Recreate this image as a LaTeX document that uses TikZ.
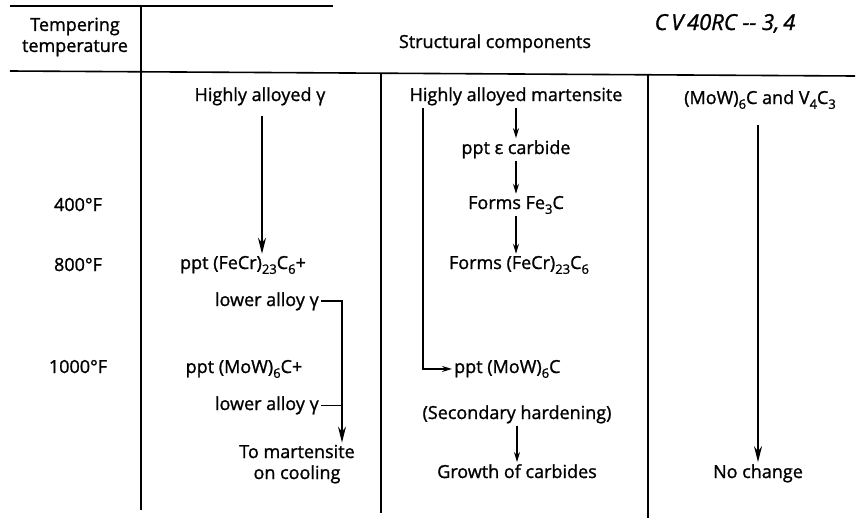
\documentclass[tikz,border=0pt]{standalone}
\usepackage{fontspec}
\setmainfont{Open Sans}[FakeBold=1.2]
\usetikzlibrary{arrows.meta,positioning}
\newcommand{\chsub}[1]{\raisebox{-0.5ex}{\fontsize{13}{13}\selectfont #1}}

\begin{document}
\begin{tikzpicture}[x=1pt,y=-1pt,
every node/.style={font=\fontsize{18}{21}\selectfont,inner sep=2pt},
rule/.style={line width=1.6pt},
txt/.style={anchor=base},
txtr/.style={anchor=base east},
txtl/.style={anchor=base west},
arr/.style={-{Stealth[length=16pt,width=8pt]},line width=1.7pt},
sarr/.style={-{Stealth[length=10pt,width=6pt]},line width=1.4pt},
hand/.style={font=\fontsize{22}{24}\selectfont\itshape}
]
\useasboundingbox (0,0) rectangle (859,520);

% table rules
\draw[rule] (10,6) -- (333,6);
\draw[rule] (10,71) -- (855,76);
\draw[rule] (141,6) -- (141,510);
\draw[rule] (381,73) -- (381,513);
\draw[rule] (648,74) -- (648,518);

% header
\node[align=center] (thead) at (75,37) {Tempering\\temperature};
\node[txt] (shead) at (495,48) {Structural components};
\node[txt,hand] (note) at (725,30) {C\,V\,40RC -{}- 3,\,4};

% temperatures
\node[txt] (t400) at (78,211) {400°F};
\node[txt] (t800) at (78,271) {800°F};
\node[txt] (t1000) at (78,373) {1000°F};

% austenite column
\node[txt] (hag) at (260,101) {Highly alloyed γ};
\node[txt] (pfc) at (243,269) {ppt (FeCr)\chsub{23}C\chsub{6}+};
\node[txtr] (low1) at (321,306) {lower alloy γ};
\node[txt] (pmw1) at (244,373) {ppt (MoW)\chsub{6}C+};
\node[txtr] (low2) at (321,410) {lower alloy γ};
\node[txt,align=center] (tomart) at (297,479) {To martensite\\on cooling};

% martensite column
\node[txt] (ham) at (516,101) {Highly alloyed martensite};
\node[txt] (peps) at (516,154) {ppt ε carbide};
\node[txt] (ffe3) at (516,209) {Forms Fe\chsub{3}C};
\node[txt] (ffecr) at (519,269) {Forms (FeCr)\chsub{23}C\chsub{6}};
\node[txtl] (pmw2) at (452,373) {ppt (MoW)\chsub{6}C};
\node[txt] (sech) at (517,419) {(Secondary hardening)};
\node[txt] (growth) at (517,478) {Growth of carbides};

% carbide column
\node[txt] (mow) at (760,104) {(MoW)\chsub{6}C and V\chsub{4}C\chsub{3}};
\node[txt] (nochg) at (758,478) {No change};

\coordinate (brk) at (342,0);
\coordinate (mtop) at (423,108);

\draw[arr,shorten <=8pt] (hag.south -| 262,0) -- (262,0 |- pfc.north);
\draw[arr] (low1.east) -| (brk |- tomart.north);
\draw[rule] (low2.east) -- (low2.east -| brk);

\draw[sarr] (ham.south) -- (ham.south |- peps.north);
\draw[sarr] (peps.south) -- (peps.south |- ffe3.north);
\draw[sarr] (ffe3.south) -- (ffe3.south |- ffecr.north);
\draw[sarr] (mtop) |- (pmw2.west);
\draw[sarr] (sech.south) -- (sech.south |- growth.north);

\draw[arr,shorten <=14pt] (758,0 |- mow.south) -- (758,0 |- nochg.north);
\end{tikzpicture}
\end{document}
